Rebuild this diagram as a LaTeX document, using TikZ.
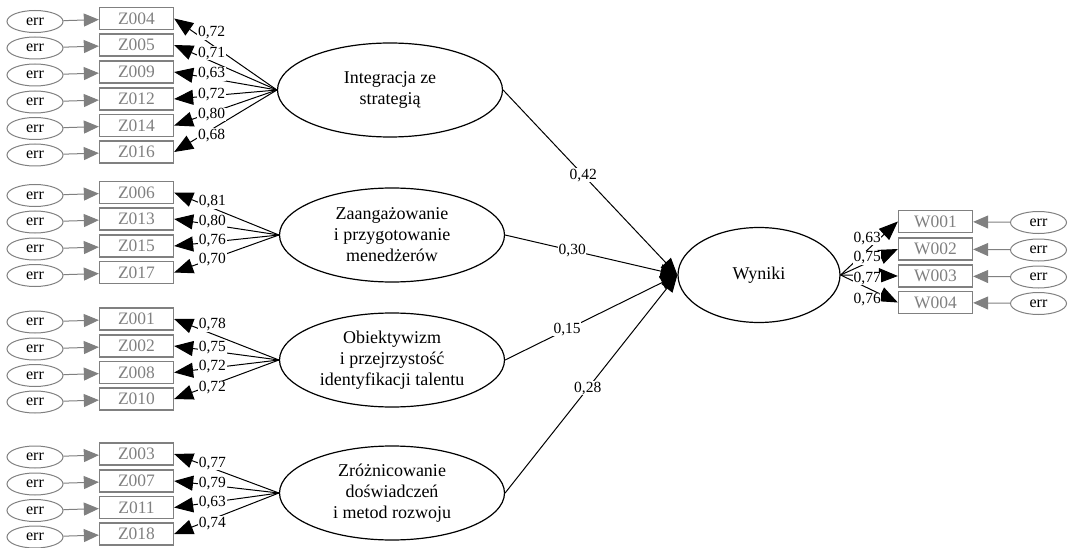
\documentclass[tikz,border=0pt]{standalone}
\usepackage{fontspec}
\setmainfont{Liberation Serif}
\usetikzlibrary{positioning,arrows.meta,shapes.geometric}

\definecolor{itemgray}{RGB}{128,128,128}

% indicators: latent / name / y / label shift / loading
\def\zlist{integr/Z004/18.5/12/{0,72}, integr/Z005/45/8/{0,71}, integr/Z009/72/5/{0,63},
  integr/Z012/99/1/{0,72}, integr/Z014/125.5/-2/{0,80}, integr/Z016/152/-6/{0,68},
  zaang/Z006/192.5/6/{0,81}, zaang/Z013/219/3/{0,80}, zaang/Z015/246/1/{0,76}, zaang/Z017/272.5/-1/{0,70},
  obiekt/Z001/319/9/{0,78}, obiekt/Z002/346/4/{0,75}, obiekt/Z008/372.5/1/{0,72}, obiekt/Z010/399/-3/{0,72},
  zrozn/Z003/454/5/{0,77}, zrozn/Z007/481/2/{0,79}, zrozn/Z011/507.5/0/{0,63}, zrozn/Z018/534/-4/{0,74}}
\def\wlist{W001/221.5/12/{0,63}, W002/249/5/{0,75}, W003/276/-3/{0,77}, W004/302.5/-12/{0,76}}

\begin{document}
\begin{tikzpicture}[
    x=1pt,y=-1pt,
    item/.style={draw=itemgray,line width=1.3pt,text=itemgray,minimum width=74pt,minimum height=22pt,inner sep=0pt,font=\fontsize{17.5}{18}\selectfont},
    errnode/.style={ellipse,draw=itemgray,line width=1pt,minimum width=56pt,minimum height=22pt,inner sep=0pt,font=\fontsize{16}{16}\selectfont},
    latent/.style={ellipse,draw,line width=1.2pt,align=center,minimum width=225pt,minimum height=94pt,inner sep=0pt,font=\fontsize{18}{21}\selectfont},
    errarrow/.style={draw=itemgray,line width=1pt,-{Triangle[length=15pt,width=13pt]}},
    loading/.style={line width=1pt,-{Triangle[length=19pt,width=15pt]}},
    effect/.style={line width=1pt,-{Triangle[length=17pt,width=14pt]}},
    coef/.style={fill=white,inner sep=0.6pt,font=\fontsize{15.5}{16}\selectfont}
  ]
    \useasboundingbox (0,0) rectangle (1070,548);

    \node[latent] (integr) at (390,90) {Integracja ze\\strategią};
    \node[latent] (zaang) at (392,235) {Zaangażowanie\\i przygotowanie\\menedżerów};
    \node[latent] (obiekt) at (392,360) {Obiektywizm\\i przejrzystość\\identyfikacji talentu};
    \node[latent] (zrozn) at (392,493) {Zróżnicowanie\\doświadczeń\\i metod rozwoju};
    \node[latent,minimum width=162pt,minimum height=95pt] (wyniki) at (759,275) {Wyniki};

    % left indicators
    \foreach \lat/\nm/\yy/\sh/\cf in \zlist {
      \node[item] (\nm) at (136.5,\yy) {\nm};
      \node[errnode] (e\nm) at (35,\yy+3) {err};
      \draw[errarrow] (e\nm) -- (\nm);
      \draw[loading] (\lat.west) -- (\nm.east);
    }
    \foreach \lat/\nm/\yy/\sh/\cf in \zlist
      \path (\lat.west) -- node[coef,pos=0.635,yshift=\sh pt] {\cf} (\nm.east);

    % outcome indicators
    \foreach \nm/\yy/\sh/\cf in \wlist {
      \node[item] (\nm) at (935.5,\yy) {\nm};
      \node[errnode] (e\nm) at (1038.5,\yy+1) {err};
      \draw[errarrow] (e\nm) -- (\nm);
      \draw[loading] (wyniki.east) -- (\nm.west);
    }
    \foreach \nm/\yy/\sh/\cf in \wlist
      \path (wyniki.east) -- node[coef,pos=0.466,yshift=\sh pt] {\cf} (\nm.west);

    % paths
    \draw[effect] (integr.east) -- node[coef,pos=0.46] {0,42} (wyniki.west);
    \draw[effect] (zaang.east) -- node[coef,pos=0.39] {0,30} (wyniki.west);
    \draw[effect] (obiekt.east) -- node[coef,pos=0.36] {0,15} (wyniki.west);
    \draw[effect] (zrozn.east) -- node[coef,pos=0.48] {0,28} (wyniki.west);
  \end{tikzpicture}
\end{document}
